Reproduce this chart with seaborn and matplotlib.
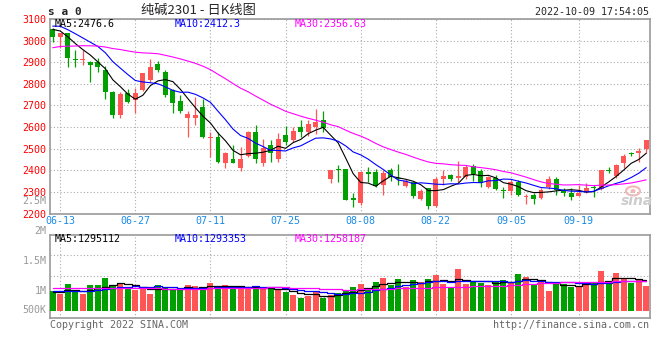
import numpy as np
import pandas as pd
import seaborn as sns
import matplotlib.pyplot as plt
from matplotlib.patches import Ellipse

# daily candles, 2022-06-10 .. 2022-09-30 (80 trading days)
open_px = [3052, 3015, 3034, 2915, 2911, 2902, 2903, 2866, 2762, 2658,
           2758, 2725, 2770, 2820, 2892, 2856, 2770, 2722, 2640, 2640,
           2692, 2548, 2552, 2432, 2450, 2412, 2466, 2576, 2432, 2515,
           2452, 2563, 2540, 2600, 2578, 2602, 2634, 2360, 2403, 2405,
           2273, 2250, 2388, 2393, 2331, 2400, 2361, 2328, 2344, 2267,
           2316, 2234, 2360, 2378, 2365, 2370, 2420, 2396, 2324, 2365,
           2310, 2305, 2347, 2276, 2285, 2273, 2324, 2359, 2305, 2296,
           2282, 2300, 2320, 2312, 2400, 2373, 2432, 2477, 2478, 2497]
high_px = [3058, 3036, 3036, 2956, 2958, 2905, 2918, 2882, 2765, 2760,
           2775, 2780, 2852, 2913, 2906, 2866, 2775, 2748, 2672, 2737,
           2730, 2575, 2576, 2485, 2517, 2510, 2583, 2608, 2543, 2540,
           2572, 2605, 2602, 2632, 2632, 2682, 2675, 2402, 2424, 2408,
           2293, 2396, 2416, 2408, 2400, 2410, 2429, 2360, 2352, 2315,
           2320, 2370, 2401, 2385, 2443, 2425, 2428, 2408, 2375, 2380,
           2322, 2355, 2355, 2290, 2295, 2320, 2373, 2368, 2318, 2316,
           2331, 2339, 2331, 2403, 2416, 2430, 2475, 2485, 2501, 2541]
low_px = [2995, 2964, 2880, 2880, 2885, 2810, 2856, 2732, 2640, 2642,
          2710, 2666, 2765, 2810, 2856, 2740, 2666, 2663, 2555, 2610,
          2548, 2460, 2432, 2412, 2432, 2398, 2460, 2435, 2421, 2440,
          2440, 2515, 2532, 2555, 2560, 2567, 2575, 2340, 2347, 2262,
          2231, 2239, 2347, 2321, 2285, 2350, 2331, 2321, 2270, 2262,
          2223, 2230, 2331, 2352, 2347, 2360, 2350, 2321, 2320, 2310,
          2273, 2285, 2280, 2243, 2243, 2265, 2315, 2285, 2280, 2262,
          2280, 2295, 2277, 2308, 2388, 2365, 2409, 2464, 2440, 2480]
close_px = [3015, 3034, 2918, 2912, 2914, 2889, 2876, 2760, 2655, 2755,
            2718, 2757, 2850, 2878, 2865, 2748, 2710, 2672, 2662, 2655,
            2552, 2552, 2440, 2482, 2435, 2450, 2578, 2450, 2505, 2480,
            2543, 2530, 2582, 2577, 2614, 2625, 2595, 2400, 2400, 2262,
            2263, 2393, 2385, 2328, 2386, 2370, 2358, 2350, 2282, 2305,
            2234, 2359, 2373, 2360, 2373, 2416, 2382, 2342, 2370, 2313,
            2306, 2347, 2285, 2278, 2267, 2311, 2359, 2308, 2295, 2278,
            2296, 2319, 2317, 2401, 2396, 2424, 2466, 2474, 2489, 2540]
volume = [850000, 710000, 1140000, 840000, 710000, 1090000, 1090000, 1410000, 1090000, 1140000,
          950000, 880000, 950000, 710000, 1090000, 950000, 920000, 920000, 1090000, 1050000,
          990000, 1190000, 990000, 1090000, 950000, 1020000, 990000, 950000, 950000, 950000,
          880000, 810000, 670000, 550000, 630000, 810000, 550000, 670000, 770000, 880000,
          1020000, 1140000, 950000, 1230000, 1380000, 1090000, 1350000, 1020000, 1310000, 1220000,
          1350000, 1520000, 1140000, 980000, 1770000, 1140000, 1230000, 1170000, 1090000, 1230000,
          1310000, 1230000, 1560000, 1420000, 1140000, 1230000, 840000, 1170000, 1140000, 1020000,
          1020000, 1230000, 1170000, 1690000, 1190000, 1620000, 1380000, 1170000, 1310000, 1050000]

# the 29 sessions before the first candle (only feed the moving averages)
prior_close = [2860, 2875, 2890, 2868, 2902, 2920, 2885, 2870, 2895, 2910,
               2930, 2945, 2925, 2940, 2962, 2950, 2935, 2958, 2975, 2945,
               3040, 3075, 3098, 3110, 3087, 3072, 3050, 3068, 3055]
prior_volume = [1050000, 1100000, 980000, 1020000, 1150000, 990000, 1060000, 1080000, 1000000, 1120000,
                1040000, 970000, 1090000, 1010000, 1130000, 1050000, 990000, 1070000, 1030000, 1030000,
                900000, 850000, 880000, 860000, 860000, 820000, 780000, 800000, 800000]

date_labels = ['06-13', '06-27', '07-11', '07-25', '08-08', '08-22', '09-05', '09-19']
price_ticks = [2200, 2300, 2400, 2500, 2600, 2700, 2800, 2900, 3000, 3100]
vol_labels = ['2.5M', '2M', '1.5M', '1M', '500K']
price_ma_text = ['MA5:2476.6', 'MA10:2412.3', 'MA30:2356.63']
vol_ma_text = ['MA5:1295112', 'MA10:1293353', 'MA30:1258187']

RED, GREEN = '#ff5555', '#00a000'
MA_COLORS = ['black', '#0000ff', '#ff00ff']
GRID = dict(color='#aaaaaa', linestyle=(0, (1, 2)), linewidth=0.8)
MONO = 'DejaVu Sans Mono'
W, H = 660, 360

sns.set_theme(style='white')
plt.rcParams['font.family'] = ['DejaVu Sans Mono', 'Noto Sans CJK SC']

days = pd.bdate_range('2022-06-10', '2022-09-30').drop(pd.Timestamp('2022-09-12'))
df = pd.DataFrame({'open': open_px, 'high': high_px, 'low': low_px,
                   'close': close_px, 'volume': volume})
df['x'] = np.arange(len(df))
df['up'] = df['close'] >= df['open']
colors = np.where(df['up'], RED, GREEN)

closes = pd.Series(prior_close + close_px)
vols = pd.Series(prior_volume + volume)
n0 = len(prior_close)
for w in (5, 10, 30):
    df[f'ma{w}'] = closes.rolling(w).mean().iloc[n0:].to_numpy()
    df[f'vma{w}'] = vols.rolling(w).mean().iloc[n0:].to_numpy()

tick_x = [days.strftime('%m-%d').get_loc(d) for d in date_labels]


def fx(px):
    return px / W


def fy(py):
    return 1 - py / H


fig = plt.figure(figsize=(6.6, 3.6), dpi=100)
ax = fig.add_axes([fx(50), fy(213.5), fx(599.5), fy(19) - fy(213.5)])
axv = fig.add_axes([fx(50), fy(318), fx(599.5), fy(234.5) - fy(318)])

# price panel
ax.vlines(df['x'], df['low'], df['high'], colors=colors, linewidth=0.9, zorder=3)
body_lo = df[['open', 'close']].min(axis=1)
body_h = (df['close'] - df['open']).abs().clip(lower=5)
ax.bar(df['x'], body_h, bottom=body_lo, width=0.66, color=colors, linewidth=0, zorder=4)
for w, c in zip((5, 10, 30), MA_COLORS):
    sns.lineplot(x=df['x'], y=df[f'ma{w}'], ax=ax, color=c, linewidth=0.8, zorder=5)

ax.set_xlim(-0.36, len(df) - 0.56)
ax.set_ylim(price_ticks[0], price_ticks[-1])
ax.set_yticks(price_ticks)
ax.set_yticklabels([str(t) for t in price_ticks])
ax.set_xticks(tick_x)
ax.set_xticklabels(date_labels)
ax.tick_params(axis='y', length=0, pad=3, labelcolor='#ff0000', labelsize=7.2)
ax.tick_params(axis='x', length=0, pad=2, labelcolor='#1a8ae6', labelsize=7.2)
ax.set_xlabel('')
ax.set_ylabel('')
ax.grid(True, **GRID)

# volume panel
axv.bar(df['x'], df['volume'], width=0.8, color=colors, linewidth=0, zorder=3)
for w, c in zip((5, 10, 30), MA_COLORS):
    sns.lineplot(x=df['x'], y=df[f'vma{w}'], ax=axv, color=c, linewidth=0.9,
                 drawstyle='steps-mid', zorder=4)
axv.set_xlim(ax.get_xlim())
vlo, vhi = -310000, 3240000
axv.set_ylim(vlo, vhi)
axv.set_yticks(np.linspace(vlo, vhi, 5)[1:-1])
axv.set_yticklabels([])
axv.set_xticks(tick_x)
axv.set_xticklabels([])
axv.tick_params(length=0)
axv.set_xlabel('')
axv.set_ylabel('')
axv.grid(True, **GRID)

for a in (ax, axv):
    for s in a.spines.values():
        s.set_color('#999999')
        s.set_linewidth(1.2)

# texts
for txt, px, c in zip(price_ma_text, (55, 175, 295), MA_COLORS):
    fig.text(fx(px), fy(24), txt, color=c, fontsize=7.2, family=MONO, va='center')
for txt, px, c in zip(vol_ma_text, (55, 175, 295), MA_COLORS):
    fig.text(fx(px), fy(239), txt, color=c, fontsize=7.2, family=MONO, va='center')
for txt, py in zip(vol_labels, (200.7, 230.7, 260.7, 290.7, 310.0)):
    fig.text(fx(46.5), fy(py), txt, color='#999999', fontsize=7.2, family=MONO,
             ha='right', va='center')

fig.text(fx(141), fy(10), '纯碱2301 - 日K线图', fontsize=9.5,
         family=['Noto Sans CJK SC', 'DejaVu Sans'], va='center')
fig.text(fx(48), fy(12), 's a 0', fontsize=8, family=MONO, weight='bold', va='center')
fig.text(fx(649), fy(12), '2022-10-09 17:54:05', fontsize=7.2, family=MONO,
         ha='right', va='center')
fig.text(fx(50), fy(325), 'Copyright 2022 SINA.COM', fontsize=7.2, family=MONO,
         color='#666666', va='center')
fig.text(fx(649), fy(325), 'http://finance.sina.com.cn', fontsize=7.2, family=MONO,
         color='#666666', ha='right', va='center')

# sina watermark
fig.patches.append(Ellipse((fx(633), fy(191)), fx(14), 9 / H, transform=fig.transFigure,
                           facecolor='none', edgecolor='#f2b8b8', linewidth=1.5))
fig.patches.append(Ellipse((fx(633), fy(191)), fx(5), 4 / H, transform=fig.transFigure,
                           facecolor='#f2b8b8', edgecolor='none'))
fig.text(fx(621), fy(201), 'sina', fontsize=10, weight='bold', style='italic',
         family='DejaVu Sans', color='#cccccc', va='center')

fig.savefig('out.png', dpi=100, facecolor='white')
